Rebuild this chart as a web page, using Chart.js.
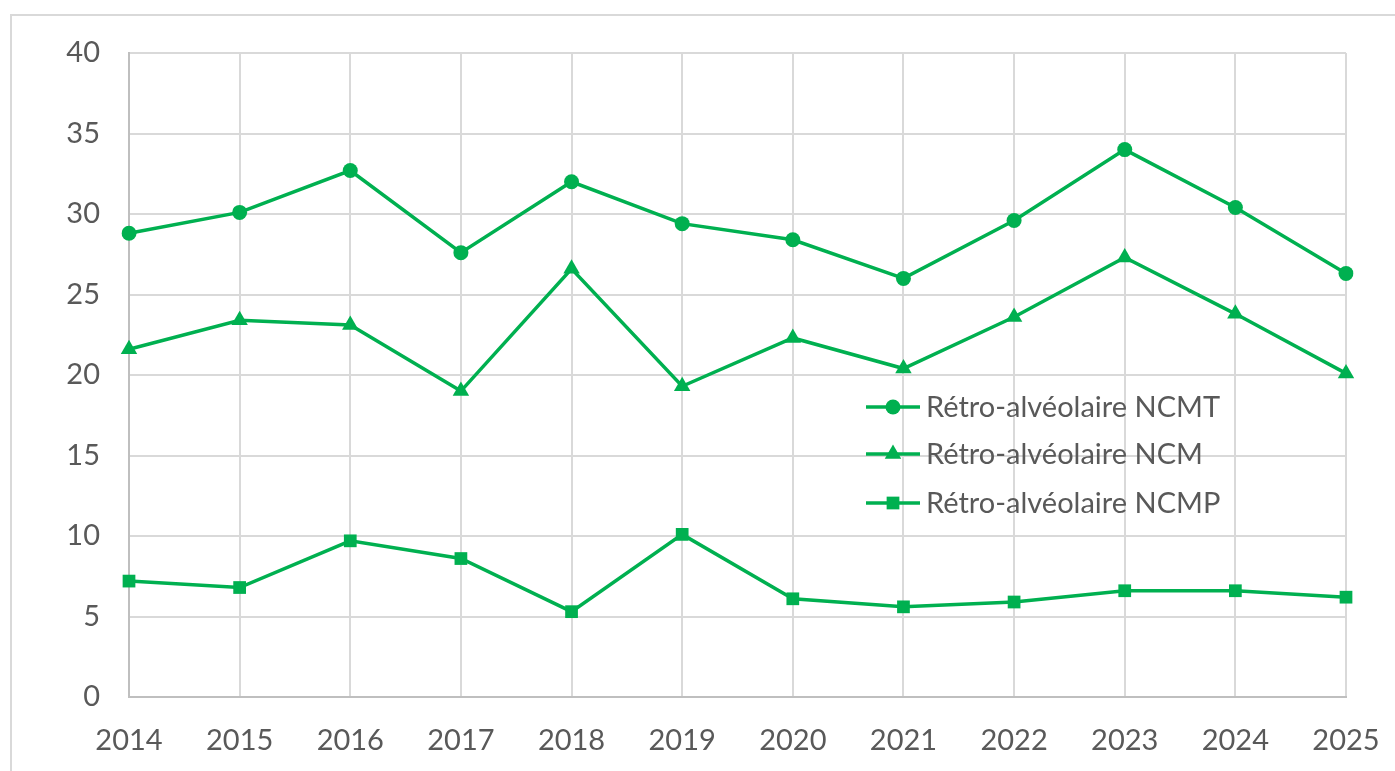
<!DOCTYPE html>
<html>
<head>
<meta charset="utf-8">
<script src="https://cdn.jsdelivr.net/npm/chart.js@4/dist/chart.umd.min.js"></script>
<style>
html,body{margin:0;padding:0;background:#fff;}
#c{display:block;}
</style>
</head>
<body>
<canvas id="c" width="1395" height="771"></canvas>
<script>
const categories = ['2014','2015','2016','2017','2018','2019','2020','2021','2022','2023','2024','2025'];
const seriesNames = ['Rétro-alvéolaire NCMT','Rétro-alvéolaire NCM','Rétro-alvéolaire NCMP'];
const ncmt = [28.8, 30.1, 32.7, 27.6, 32.0, 29.4, 28.4, 26.0, 29.6, 34.0, 30.4, 26.3];
const ncm  = [21.6, 23.4, 23.1, 19.0, 26.6, 19.3, 22.3, 20.4, 23.6, 27.3, 23.8, 20.1];
const ncmp = [7.2, 6.8, 9.7, 8.6, 5.3, 10.1, 6.1, 5.6, 5.9, 6.6, 6.6, 6.2];
const yTicks = [0,5,10,15,20,25,30,35,40];

const green = '#00B050';
const FONT = 'Lato, "Open Sans", sans-serif';

const frame = {
  id:'frame',
  beforeDraw(chart){
    const ctx = chart.ctx;
    ctx.save();
    ctx.fillStyle='#fff';
    ctx.fillRect(0,0,chart.width,chart.height);
    ctx.strokeStyle='#d9d9d9';
    ctx.lineWidth=2;
    ctx.strokeRect(11,15,1420,820);
    ctx.restore();
  }
};

const insideLegend = {
  id:'insideLegend',
  afterDraw(chart){
    const ctx = chart.ctx;
    const ys = [407, 454, 503];
    ctx.save();
    chart.data.datasets.forEach((ds,i)=>{
      const y = ys[i];
      ctx.strokeStyle = ds.borderColor;
      ctx.lineWidth = ds.borderWidth;
      ctx.beginPath();
      ctx.moveTo(866,y);
      ctx.lineTo(920,y);
      ctx.stroke();
      ctx.fillStyle = ds.pointBackgroundColor;
      ctx.strokeStyle = ds.pointBorderColor;
      Chart.helpers.drawPoint(ctx,{pointStyle:ds.pointStyle,radius:ds.pointRadius,rotation:0,borderWidth:0},893,y);
      ctx.fillStyle='#595959';
      ctx.font = '29px ' + FONT;
      ctx.textBaseline='middle';
      ctx.textAlign='left';
      ctx.fillText(ds.label, 926, y+1);
    });
    ctx.restore();
  }
};

function mk(label, data, style, r){
  return {label, data, borderColor:green, backgroundColor:green, pointBackgroundColor:green,
    pointBorderColor:green, borderWidth:3.5, pointStyle:style, pointRadius:r, pointBorderWidth:0,
    pointHoverRadius:r, tension:0};
}

new Chart(document.getElementById('c'), {
  type:'line',
  data:{
    labels: categories,
    datasets:[
      mk(seriesNames[0], ncmt, 'circle', 7.5),
      mk(seriesNames[1], ncm, 'triangle', 9.5),
      mk(seriesNames[2], ncmp, 'rect', 9)
    ]
  },
  options:{
    responsive:false,
    animation:false,
    events:[],
    layout:{padding:{left:0,top:53,right:49,bottom:0}},
    plugins:{legend:{display:false}, tooltip:{enabled:false}},
    scales:{
      x:{
        offset:false,
        grid:{color:'#d9d9d9', lineWidth:2, drawTicks:false},
        border:{color:'#bfbfbf', width:2},
        ticks:{color:'#595959', font:{family:FONT,size:29}, padding:26, maxRotation:0, autoSkip:false},
        afterFit(s){ s.height = 74; s.paddingLeft = 0; s.paddingRight = 0; }
      },
      y:{
        min:0, max:40,
        afterBuildTicks(s){ s.ticks = yTicks.map(v=>({value:v})); },
        grid:{color:'#d9d9d9', lineWidth:2, drawTicks:false},
        border:{color:'#bfbfbf', width:2},
        ticks:{color:'#595959', font:{family:FONT,size:29}, padding:29},
        afterFit(s){ s.width = 129; s.paddingTop = 0; s.paddingBottom = 0; }
      }
    }
  },
  plugins:[frame, insideLegend]
});
</script>
</body>
</html>
